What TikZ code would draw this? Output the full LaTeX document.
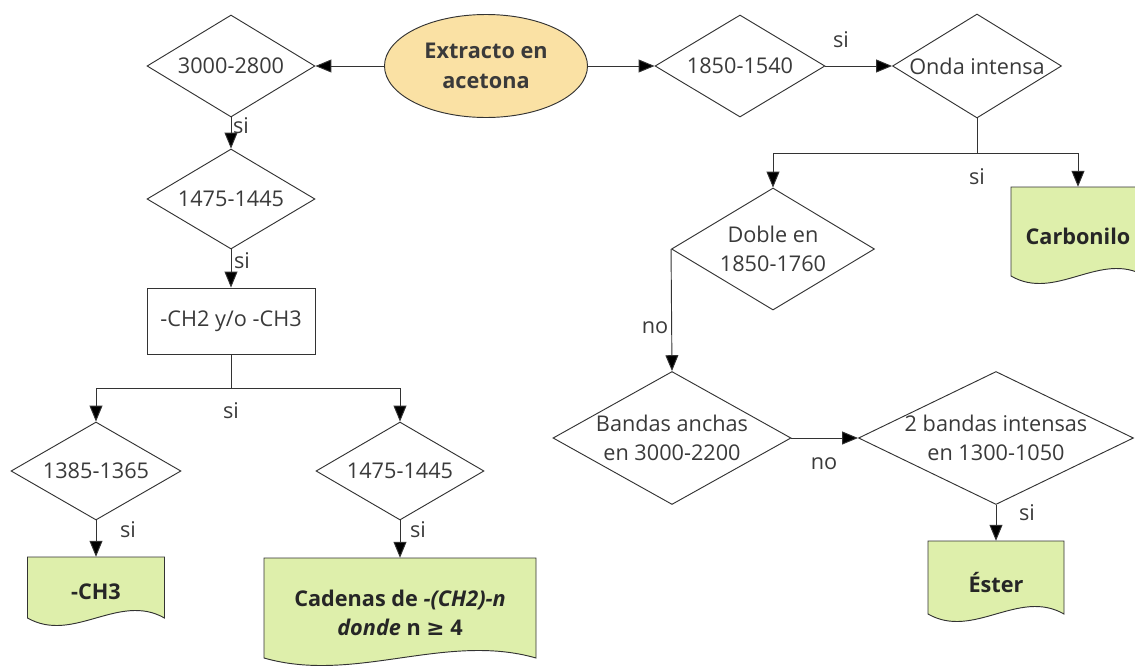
\documentclass[tikz,border=0pt]{standalone}
\usepackage{fontspec}
\setmainfont{Open Sans}
\newfontfamily\symfont{DejaVu Sans}
\usetikzlibrary{shapes.geometric,arrows.meta}

\definecolor{lineg}{HTML}{333333}
\definecolor{txtg}{HTML}{3A3A3A}
\definecolor{startfill}{HTML}{FAE1A4}
\definecolor{endfill}{HTML}{DEEFAB}

\def\px{0.03cm}

\tikzset{
  txt/.style={text=txtg, align=center, inner sep=0pt,
    font=\fontsize{18.5}{25}\selectfont},
  lbl/.style={txt},
  dec/.style={diamond, draw=lineg, line width=0.8pt, inner sep=0pt},
  startnode/.style={ellipse, draw=lineg, line width=0.8pt, fill=startfill,
    inner sep=0pt, txt, font=\bfseries\fontsize{18.5}{25}\selectfont},
  procbox/.style={rectangle, draw=lineg, line width=0.8pt, inner sep=0pt, txt},
  docbox/.style={rectangle, inner sep=0pt},
  docline/.style={draw=lineg, line width=0.8pt, fill=endfill},
  doctxt/.style={txt, text=black!85, yshift=-4pt,
    font=\bfseries\fontsize{18.5}{25}\selectfont},
  arr/.style={draw=lineg, line width=0.8pt,
    -{Triangle[length=13.5pt,width=11pt,fill=black]}},
  ln/.style={draw=lineg, line width=0.8pt}
}

% document box: name, x, top, width, height (to the wave), text
\newcommand{\docnode}[6]{%
  \filldraw[docline] ({#2-#4/2},#3) -- ({#2+#4/2},#3) -- ({#2+#4/2},{#3+#5})
    .. controls ({#2+#4/6},{#3+#5-26}) and ({#2-#4/6},{#3+#5+26}) .. ({#2-#4/2},{#3+#5}) -- cycle;
  \node[docbox, minimum width=#4*\px, minimum height=#5*\px,
    label={[doctxt]center:{#6}}] (#1) at (#2,{#3+#5/2}) {};}

\begin{document}
\begin{tikzpicture}[x=\px, y=-\px]
  \useasboundingbox (0,0) rectangle (1135,667);

  %%%%%%%%%%%%%%%%%%%%%%%%%%%%%%%%%%%%%%%%%%%%%%%%%%%%%%%%%%%%%%%%%%%%%%%%%%%
  %%%%  Start
  \node[startnode, minimum width=203*\px, minimum height=103*\px] (ext) at (486,66)
    {Extracto en\\acetona};

  %%%%%%%%%%%%%%%%%%%%%%%%%%%%%%%%%%%%%%%%%%%%%%%%%%%%%%%%%%%%%%%%%%%%%%%%%%%
  %%%%  Left branch
  \node[dec, minimum width=168*\px, minimum height=102*\px,
    label={[txt]center:3000-2800}] (d1) at (231,66) {};
  \node[dec, minimum width=168*\px, minimum height=100*\px,
    label={[txt]center:1475-1445}] (d2) at (231,199) {};
  \node[procbox, minimum width=168*\px, minimum height=66*\px] (ch) at (231,321)
    {-CH2 y/o -CH3};
  \coordinate (br1) at (231,388);
  \node[dec, minimum width=170*\px, minimum height=98*\px,
    label={[txt]center:1385-1365}] (d3) at (96,471) {};
  \node[dec, minimum width=168*\px, minimum height=98*\px,
    label={[txt]center:1475-1445}] (d4) at (400,471) {};
  \docnode{dch}{96}{557}{137}{61}{-CH3}
  \docnode{dcad}{400}{558}{272}{100}{Cadenas de \textit{-(CH2)-n}\\\textit{donde} n {\symfont\bfseries ≥} 4}

  \draw[arr] (ext.west) -- (d1.east);
  \draw[arr] (d1.south) -- (d2.north);
  \draw[arr] (d2.south) -- (ch.north);
  \draw[ln] (ch.south) -- (br1);
  \draw[arr] (br1) -| (d3.north);
  \draw[arr] (br1) -| (d4.north);
  \draw[arr] (d3.south) -- (dch.north);
  \draw[arr] (d4.south) -- (dcad.north);

  \node[lbl] (si1) at (241,126) {si};
  \node[lbl] (si2) at (242,261) {si};
  \node[lbl] (si3) at (231,411) {si};
  \node[lbl] (si4) at (128,530) {si};
  \node[lbl] (si5) at (418,530) {si};

  %%%%%%%%%%%%%%%%%%%%%%%%%%%%%%%%%%%%%%%%%%%%%%%%%%%%%%%%%%%%%%%%%%%%%%%%%%%
  %%%%  Right branch
  \node[dec, minimum width=170*\px, minimum height=102*\px,
    label={[txt]center:1850-1540}] (d5) at (740,66) {};
  \node[dec, minimum width=169*\px, minimum height=104*\px,
    label={[txt]center:Onda intensa}] (d6) at (977,66) {};
  \coordinate (br2) at (977,153);
  \node[dec, minimum width=203*\px, minimum height=122*\px,
    label={[txt]center:{Doble en\\1850-1760}}] (d7) at (773,249) {};
  \docnode{dcarb}{1078}{187}{134}{89}{Carbonilo}
  \node[dec, minimum width=238*\px, minimum height=133*\px,
    label={[txt]center:{Bandas anchas\\en 3000-2200}}] (d8) at (672,438) {};
  \node[dec, minimum width=275*\px, minimum height=133*\px,
    label={[txt]center:{2 bandas intensas\\en 1300-1050}}] (d9) at (996,438) {};
  \docnode{dest}{996}{541}{136}{73}{Éster}

  \draw[arr] (ext.east) -- (d5.west);
  \draw[arr] (d5.east) -- (d6.west);
  \draw[ln] (d6.south) -- (br2);
  \draw[arr] (br2) -| (d7.north);
  \draw[arr] (br2) -| (dcarb.north);
  \draw[arr] (d7.west) -- (d8.north);
  \draw[arr] (d8.east) -- (d9.west);
  \draw[arr] (d9.south) -- (dest.north);

  \node[lbl] (si6) at (841,40) {si};
  \node[lbl] (si7) at (977,177) {si};
  \node[lbl] (no1) at (655,328) {no};
  \node[lbl] (no2) at (824,464) {no};
  \node[lbl] (si8) at (1027,513) {si};
\end{tikzpicture}
\end{document}
